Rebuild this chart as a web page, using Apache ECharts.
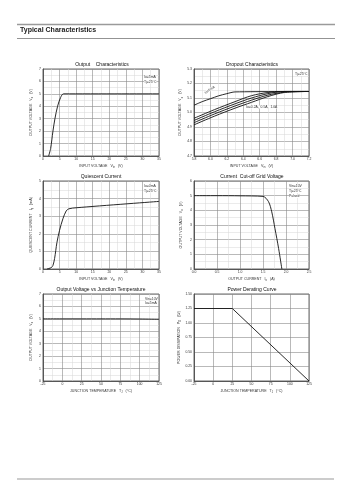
<!DOCTYPE html>
<html>
<head>
<meta charset="utf-8">
<script src="https://cdn.jsdelivr.net/npm/echarts@6/dist/echarts.min.js"></script>
<style>
html,body{margin:0;padding:0;background:#fff;}
#chart{width:353px;height:500px;}
</style>
</head>
<body>
<div id="chart"></div>
<script>
// Output characteristics
var outVin=[1.7,2.3,3.0,3.6,4.4,5.3,6.2,35];
var outVo=[0,0.6,2.0,3.0,4.0,4.7,5.0,5.0];

// Dropout characteristics
var dropVin5mA=[5.8,5.9,6.0,6.1,6.2,6.3,7.2];
var dropVo5mA=[5.05,5.075,5.095,5.115,5.13,5.142,5.145];
var dropVinA=[5.8,6.05,6.3,6.5,6.7,6.9,7.2];
var dropVoA=[4.96,5.02,5.075,5.116,5.138,5.145,5.145];
var dropVoB=[4.945,5.005,5.06,5.10,5.13,5.145,5.145];
var dropVoC=[4.93,4.99,5.045,5.085,5.12,5.14,5.145];
var dropVoD=[4.915,4.975,5.03,5.07,5.11,5.138,5.145];

// Quiescent current
var qVin=[1.2,2.5,3.0,3.5,4.2,5.0,6.0,7.0,7.8,10,35];
var qIq=[0,0.08,0.2,0.6,1.5,2.2,2.85,3.3,3.42,3.48,3.84];

// Current cut-off
var cutIo=[0,0.5,1.0,1.5,1.62,1.69,1.76,1.84,1.91];
var cutVo=[5.0,5.0,4.99,4.95,4.59,3.9,2.76,1.39,0];

// Output voltage vs junction temperature
var tjT=[-25,0,25,50,75,100,125];
var tjVo=[5.0,5.0,5.0,5.0,5.0,4.99,4.97];

// Power derating
var pdT=[-25,25,125];
var pdW=[1.25,1.25,0];

var chart=echarts.init(document.getElementById("chart"));

var grids=[
  {left:43,top:69,width:116,height:87},
  {left:194,top:69,width:115,height:87},
  {left:43,top:181,width:116,height:88},
  {left:194,top:181,width:115,height:88},
  {left:43,top:294,width:116,height:87},
  {left:194,top:294,width:115,height:87}
];
grids.forEach(function(g){g.show=true;g.borderColor="#444";g.borderWidth=0.8;g.backgroundColor="#fff";});

var rich={n:{fontSize:3.6,color:"#333",fontFamily:"Liberation Sans"},s:{fontSize:2.6,color:"#333",verticalAlign:"bottom",padding:[3,0,0,0]}};
function nm(a,b,c){return "{n|"+a+"}{s|"+b+"}{n|"+c+"}";}

function axis(idx,min,max,interval,name,gap,isY,fmt,minor){
  return {
    type:"value",gridIndex:idx,min:min,max:max,interval:interval,
    name:name,nameLocation:"middle",nameGap:gap,nameTextStyle:{rich:rich},
    axisLine:{show:true,onZero:false,lineStyle:{color:"#444",width:0.8}},
    axisTick:{show:false},
    axisLabel:{fontSize:3.4,color:"#333",margin:2,fontFamily:"Liberation Sans",
      formatter:fmt||function(v){return v;}},
    splitLine:{show:true,lineStyle:{color:"#8a8a8a",width:0.6}},
    minorTick:{show:false,splitNumber:2},
    minorSplitLine:{show:minor!==false,lineStyle:{color:"#d6d6d6",width:0.5}}
  };
}
function f1(v){return v.toFixed(1);}
function f2(v){return v.toFixed(2);}

var xAxes=[
  axis(0,0,35,5,nm("INPUT VOLTAGE   V","in","   (V)"),7,false),
  axis(1,5.8,7.2,0.2,nm("INPUT VOLTAGE   V","in","   (V)"),7,false,f1),
  axis(2,0,35,5,nm("INPUT VOLTAGE   V","in","   (V)"),7,false),
  axis(3,0,2.5,0.5,nm("OUTPUT CURRENT   I","o","   (A)"),7,false,f1),
  axis(4,-25,125,25,nm("JUNCTION TEMPERATURE   T","J","   (\u00b0C)"),7,false),
  axis(5,-25,125,25,nm("JUNCTION TEMPERATURE   T","J","   (\u00b0C)"),7,false,null,false)
];
var yAxes=[
  axis(0,0,7,1,nm("OUTPUT VOLTAGE   V","o","   (V)"),9,true),
  axis(1,4.7,5.3,0.1,nm("OUTPUT VOLTAGE   V","o","   (V)"),10,true,f1),
  axis(2,0,5,1,nm("QUIESCENT CURRENT   I","q","   (mA)"),9,true),
  axis(3,0,6,1,nm("OUTPUT VOLTAGE   V","o","   (V)"),10,true),
  axis(4,0,7,1,nm("OUTPUT VOLTAGE   V","o","   (V)"),9,true),
  axis(5,0,1.5,0.25,nm("POWER DISSIPATION   P","D","   (W)"),12,true,f2,false)
];

function line(idx,xs,ys){
  return {type:"line",xAxisIndex:idx,yAxisIndex:idx,symbol:"none",smooth:0.3,
    data:xs.map(function(x,i){return [x,ys[i]];}),
    lineStyle:{color:"#111",width:0.9},silent:true,animation:false};
}

var tstyle={fontSize:5,fontWeight:"normal",color:"#111",fontFamily:"Liberation Sans"};
function ttl(text,x,y){return {text:text,left:x,top:y,textAlign:"center",textStyle:tstyle,padding:0};}

function note(text,x,y,rot){
  return {type:"text",x:x,y:y,rotation:rot||0,z:10,
    style:{text:text,fontSize:3.4,fill:"#333",fontFamily:"Liberation Sans",backgroundColor:"#fff"}};
}

var option={
  animation:false,
  title:[
    ttl("Output    Characteristics",102,62),
    ttl("Dropout Characteristics",252,62),
    ttl("Quiescent Current",101,174),
    ttl("Current  Cut-off Grid Voltage",252,174),
    ttl("Output Voltage vs Junction Temperature",101,287),
    ttl("Power Derating Curve",252,287)
  ],
  grid:grids,
  xAxis:xAxes,
  yAxis:yAxes,
  series:[
    line(0,outVin,outVo),
    line(1,dropVin5mA,dropVo5mA),
    line(1,dropVinA,dropVoA),
    line(1,dropVinA,dropVoB),
    line(1,dropVinA,dropVoC),
    line(1,dropVinA,dropVoD),
    line(2,qVin,qIq),
    line(3,cutIo,cutVo),
    line(4,tjT,tjVo),
    Object.assign(line(5,pdT,pdW),{smooth:false})
  ],
  graphic:[
    {type:"line",shape:{x1:17,y1:24.5,x2:335,y2:24.5},style:{stroke:"#9a9a9a",lineWidth:1.5}},
    {type:"text",x:20,y:27,style:{text:"Typical Characteristics",fontSize:7,fontWeight:"bold",fill:"#222",fontFamily:"Liberation Sans"}},
    {type:"line",shape:{x1:17,y1:38.5,x2:335,y2:38.5},style:{stroke:"#777",lineWidth:0.8}},
    {type:"line",shape:{x1:17,y1:479,x2:334,y2:479},style:{stroke:"#9a9a9a",lineWidth:1.2}},
    note("Io=5mA",144,76),
    note("Tj=25\u00b0C",144,80.5),
    note("Tj=25\u00b0C",295,73),
    note("Io=5mA",204,92,0.6),
    note("Io=0.2A,  0.5A,  1.0A",246,105.5),
    note("Io=0mA",144,185),
    note("Tj=25\u00b0C",144,189.5),
    note("Vin=10V",289,185),
    note("Tj=25\u00b0C",289,190),
    note("Pulsed",289,195),
    note("Vin=10V",145,297.5),
    note("Io=5mA",145,302)
  ]
};
chart.setOption(option);
</script>
</body>
</html>
